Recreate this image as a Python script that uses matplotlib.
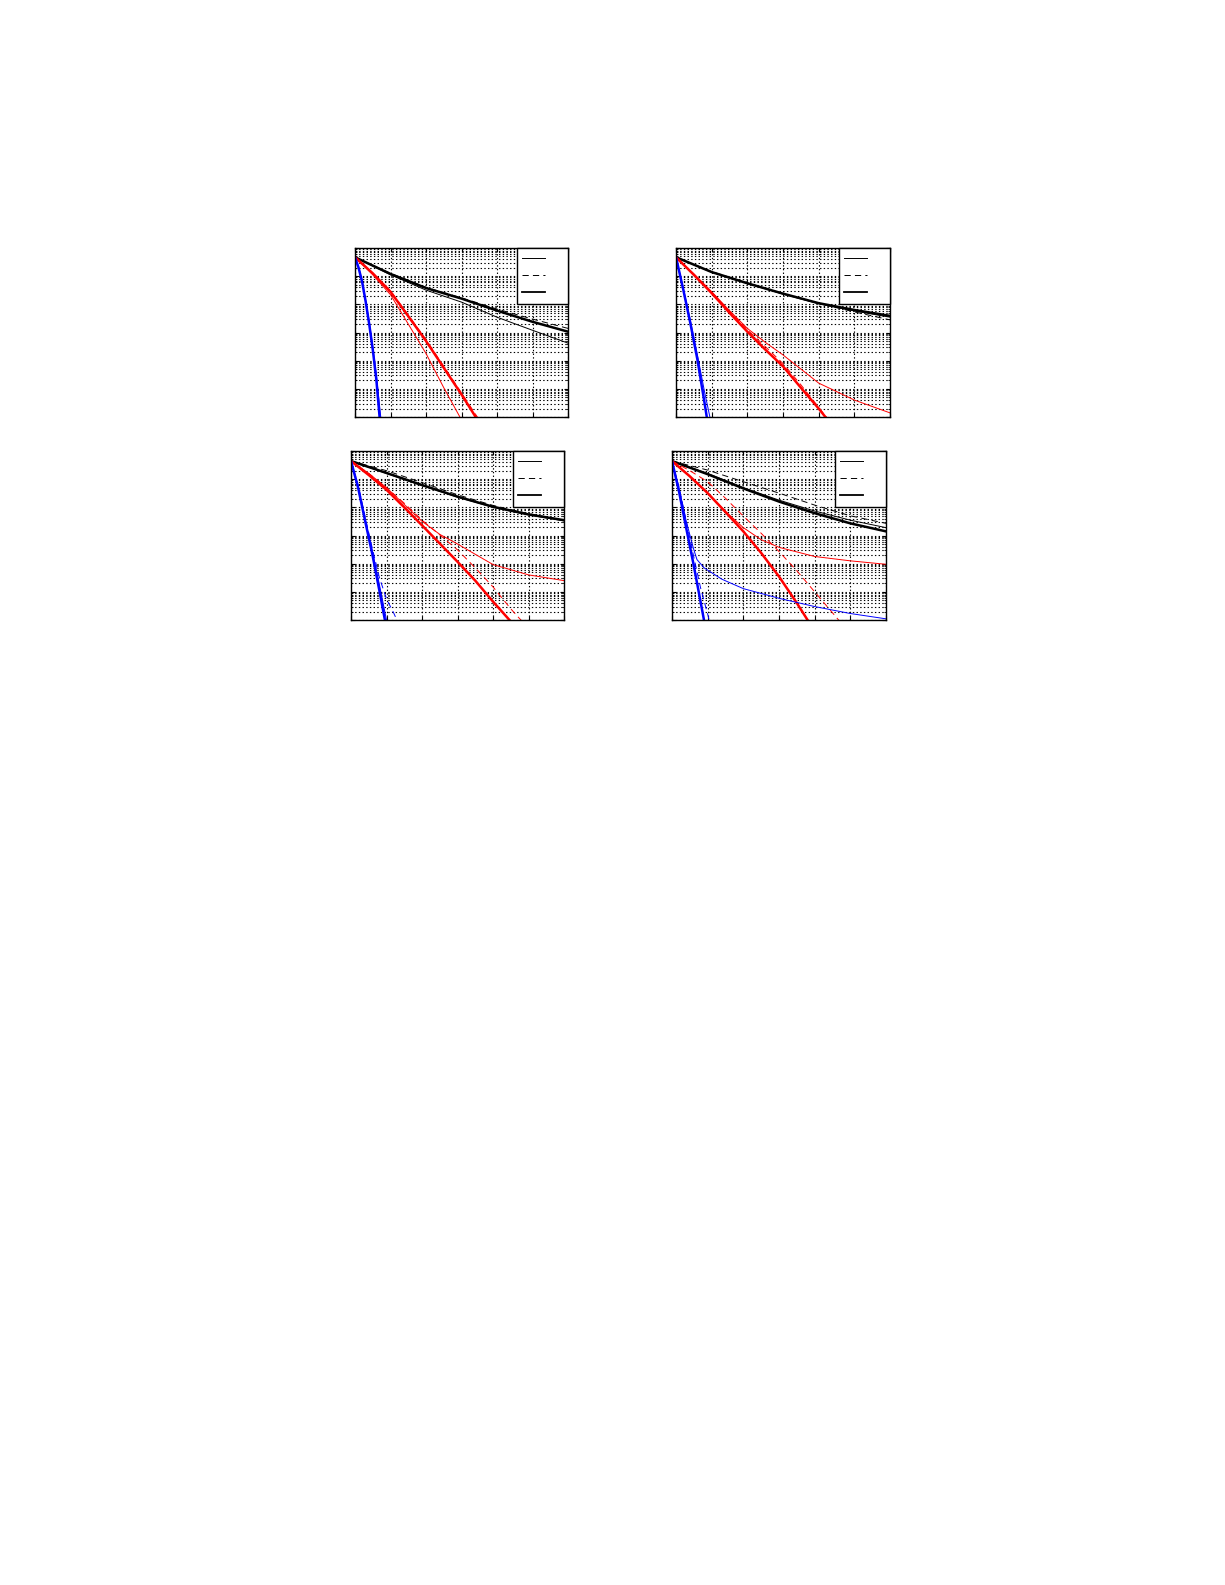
import matplotlib
matplotlib.use("Agg")
import matplotlib.pyplot as plt
from matplotlib.lines import Line2D

plt.rcParams['lines.scale_dashes'] = False
plt.rcParams['lines.dashed_pattern'] = [4.5, 3.0]

# x axis (SNR, dB) sample points
snr_black = [0, 5, 10, 15, 20, 25, 30]
snr_red = [0, 2.5, 5, 7.5, 10, 12.5, 15, 17.5]
snr_red_long = [0, 2.5, 5, 7.5, 10, 12.5, 15, 17.5, 20, 22.5]
snr_red_wide = [0, 2.5, 5, 7.5, 10, 12.5, 15, 17.5, 20, 22.5, 25]
snr_red_tail = [0, 2.5, 5, 7.5, 10, 12.5, 15, 20, 25, 30]
snr_blue_a = [0, 0.5, 1, 1.5, 2, 2.5, 3, 3.5, 4]
snr_blue = [0, 1, 2, 3, 4, 5]
snr_blue_b = [0, 1, 2, 3, 4, 4.5, 5]
snr_blue_long = [0, 1, 2, 3, 4, 5, 6, 7]
snr_blue_tail = [0, 1, 2, 3, 3.5, 4.5, 7, 10, 15, 20, 25, 30]

# panel (a)
a_black_thin = [4.7e-1, 1.12e-1, 3.2e-2, 1.2e-2, 3.5e-3, 1.2e-3, 4.2e-4]
a_black_dash = [4.7e-1, 1.26e-1, 4.0e-2, 1.7e-2, 6.8e-3, 3.0e-3, 1.4e-3]
a_black_thick = [4.7e-1, 1.2e-1, 3.8e-2, 1.6e-2, 6.0e-3, 2.4e-3, 1.07e-3]
a_red_thin = [4.7e-1, 1.12e-1, 2.2e-2, 2.0e-3, 1.8e-4, 1.1e-5, 7.9e-7]
a_red_dash = [4.7e-1, 1.3e-1, 3.0e-2, 4.2e-3, 5.6e-4, 6.3e-5, 7.1e-6, 7.9e-7]
a_red_thick = [4.7e-1, 1.26e-1, 2.8e-2, 3.8e-3, 5.0e-4, 5.6e-5, 6.3e-6, 6.3e-7]
a_blue_thin = [4.7e-1, 2.1e-1, 7.1e-2, 1.4e-2, 2.5e-3, 3.2e-4, 3.2e-5, 2.0e-6, 1.26e-7]
a_blue_thick = [4.7e-1, 2.0e-1, 6.3e-2, 1.26e-2, 2.0e-3, 2.5e-4, 2.2e-5, 7.9e-7, 1e-7]

# panel (b)
b_black_thin = [4.7e-1, 1.38e-1, 5.5e-2, 2.3e-2, 1.05e-2, 5.8e-3, 3.5e-3]
b_black_dash = [4.7e-1, 1.45e-1, 5.8e-2, 2.4e-2, 1.07e-2, 5.4e-3, 2.8e-3]
b_black_thick = [4.7e-1, 1.4e-1, 5.6e-2, 2.4e-2, 1.1e-2, 6.3e-3, 3.9e-3]
b_red_thin = [4.7e-1, 1.2e-1, 2.8e-2, 6.0e-3, 1.4e-3, 4.5e-4, 1.6e-4, 1.6e-5, 4.0e-6, 1.4e-6]
b_red_dash = [4.7e-1, 1.17e-1, 2.7e-2, 5.6e-3, 1.26e-3, 3.2e-4, 7.9e-5, 1.4e-5, 2.2e-6, 3.5e-7]
b_red_thick = [4.7e-1, 1.12e-1, 2.5e-2, 5.0e-3, 1.07e-3, 2.5e-4, 6.3e-5, 1.1e-5, 2.0e-6, 3.2e-7]
b_blue_thin = [4.7e-1, 4.0e-2, 2.8e-3, 1.6e-4, 7.9e-6, 2.0e-6, 5.0e-7]
b_blue_thick = [4.7e-1, 3.5e-2, 2.2e-3, 1.1e-4, 3.2e-6, 5.0e-7]

# panel (c)
c_black_thin = [4.4e-1, 1.6e-1, 5.9e-2, 2.3e-2, 1.0e-2, 5.4e-3, 3.3e-3]
c_black_dash = [4.4e-1, 2.0e-1, 7.6e-2, 2.8e-2, 1.17e-2, 6.0e-3, 3.5e-3]
c_black_thick = [4.4e-1, 1.66e-1, 6.2e-2, 2.4e-2, 1.05e-2, 5.6e-3, 3.5e-3]
c_red_thin = [4.4e-1, 1.6e-1, 5.0e-2, 1.26e-2, 3.2e-3, 1.1e-3, 5.0e-4, 9.3e-5, 4.0e-5, 2.5e-5]
c_red_dash = [4.4e-1, 1.6e-1, 5.0e-2, 1.4e-2, 3.5e-3, 1.05e-3, 3.1e-4, 7.1e-5, 1.5e-5, 2.5e-6, 5.0e-7]
c_red_thick = [4.4e-1, 1.4e-1, 4.2e-2, 1.0e-2, 2.3e-3, 5.2e-4, 1.17e-4, 2.5e-5, 4.5e-6, 8.9e-7, 2.0e-7]
c_blue_thin = [4.4e-1, 5.6e-2, 3.5e-3, 2.8e-4, 1.8e-5, 1.0e-6]
c_blue_dash = [4.4e-1, 6.3e-2, 4.5e-3, 3.5e-4, 3.2e-5, 5.6e-6, 1.8e-6, 5.0e-7]
c_blue_thick = [4.4e-1, 5.0e-2, 3.2e-3, 2.2e-4, 1.1e-5, 5.0e-7]

# panel (d)
d_black_thin = [4.4e-1, 1.6e-1, 5.0e-2, 1.8e-2, 7.4e-3, 3.5e-3, 1.9e-3]
d_black_dash = [4.4e-1, 2.1e-1, 8.1e-2, 3.2e-2, 1.2e-2, 5.0e-3, 2.7e-3]
d_black_thick = [4.4e-1, 1.5e-1, 4.7e-2, 1.6e-2, 6.2e-3, 2.7e-3, 1.4e-3]
d_red_thin = [4.4e-1, 1.26e-1, 3.2e-2, 7.1e-3, 1.9e-3, 7.1e-4, 3.8e-4, 1.8e-4, 1.26e-4, 9.5e-5]
d_red_dash = [4.4e-1, 2.0e-1, 8.1e-2, 2.1e-2, 4.9e-3, 1.2e-3, 2.7e-4, 5.6e-5, 1.0e-5, 1.8e-6, 3.2e-7]
d_red_thick = [4.4e-1, 1.26e-1, 3.2e-2, 6.8e-3, 1.4e-3, 2.4e-4, 3.5e-5, 4.0e-6, 4.0e-7]
d_blue_thin = [4.4e-1, 4.5e-2, 3.2e-3, 3.5e-4, 1.4e-4, 7.1e-5, 2.8e-5, 1.3e-5, 5.9e-6, 3.0e-6, 1.7e-6, 1.1e-6]
d_blue_dash = [4.4e-1, 5.0e-2, 3.2e-3, 2.0e-4, 1.4e-5, 1.6e-6, 1.6e-7]
d_blue_thick = [4.4e-1, 3.5e-2, 1.8e-3, 1.0e-4, 4.5e-6, 2.0e-7]

THIN = 0.7
THICK = 1.8

# (x, y, colour, linestyle, linewidth) per curve
panels = [
    [(snr_black, a_black_thin, 'black', '-', THIN),
     (snr_black, a_black_dash, 'black', '--', THIN),
     (snr_black, a_black_thick, 'black', '-', THICK),
     (snr_red[:7], a_red_thin, 'red', '-', THIN),
     (snr_red, a_red_dash, 'red', '--', THIN),
     (snr_red, a_red_thick, 'red', '-', THICK),
     (snr_blue_a, a_blue_thin, 'blue', '-', THIN),
     (snr_blue_a, a_blue_thick, 'blue', '-', THICK)],
    [(snr_black, b_black_thin, 'black', '-', THIN),
     (snr_black, b_black_dash, 'black', '--', THIN),
     (snr_black, b_black_thick, 'black', '-', THICK),
     (snr_red_tail, b_red_thin, 'red', '-', THIN),
     (snr_red_long, b_red_dash, 'red', '--', THIN),
     (snr_red_long, b_red_thick, 'red', '-', THICK),
     (snr_blue_b, b_blue_thin, 'blue', '-', THIN),
     (snr_blue_b[:6], b_blue_thick, 'blue', '-', THICK)],
    [(snr_black, c_black_thin, 'black', '-', THIN),
     (snr_black, c_black_dash, 'black', '--', THIN),
     (snr_black, c_black_thick, 'black', '-', THICK),
     (snr_red_tail, c_red_thin, 'red', '-', THIN),
     (snr_red_wide, c_red_dash, 'red', '--', THIN),
     (snr_red_wide, c_red_thick, 'red', '-', THICK),
     (snr_blue, c_blue_thin, 'blue', '-', THIN),
     (snr_blue_long, c_blue_dash, 'blue', '--', THIN),
     (snr_blue, c_blue_thick, 'blue', '-', THICK)],
    [(snr_black, d_black_thin, 'black', '-', THIN),
     (snr_black, d_black_dash, 'black', '--', THIN),
     (snr_black, d_black_thick, 'black', '-', THICK),
     (snr_red_tail, d_red_thin, 'red', '-', THIN),
     (snr_red_wide, d_red_dash, 'red', '--', THIN),
     (snr_red_wide[:9], d_red_thick, 'red', '-', THICK),
     (snr_blue_tail, d_blue_thin, 'blue', '-', THIN),
     (snr_blue_long[:7], d_blue_dash, 'blue', '--', THIN),
     (snr_blue, d_blue_thick, 'blue', '-', THICK)],
]

# axes boxes in figure pixels: left, top, right, bottom
W, H = 1225, 1585
boxes = [(355, 248, 568, 417), (676, 248, 890, 417),
         (351, 451, 564, 620), (672, 451, 886, 620)]

fig = plt.figure(figsize=(W / 100, H / 100), dpi=100)

for box, curves in zip(boxes, panels):
    l, t, r, b = box
    ax = fig.add_axes([l / W, 1 - b / H, (r - l) / W, (b - t) / H])
    for x, y, c, ls, lw in curves:
        ax.plot(x, y, color=c, linestyle=ls, linewidth=lw)
    ax.set_yscale('log')
    ax.set_xlim(0, 30)
    ax.set_ylim(1e-6, 1)
    ax.set_xticks([0, 5, 10, 15, 20, 25, 30])
    ax.grid(True, which='major', linestyle=':', color='black', linewidth=0.8)
    ax.grid(True, which='minor', axis='y', linestyle=':', color='black', linewidth=0.8)
    ax.tick_params(which='both', direction='in', top=True, right=True,
                   labelleft=False, labelbottom=False, length=3)
    ax.tick_params(which='minor', length=1.5)
    for s in ax.spines.values():
        s.set_linewidth(1.0)

    handles = [Line2D([], [], color='black', linestyle='-', linewidth=THIN),
               Line2D([], [], color='black', linestyle='--', linewidth=THIN),
               Line2D([], [], color='black', linestyle='-', linewidth=1.3)]
    leg = ax.legend(handles, ['', '', ''], loc='upper right', borderaxespad=0,
                    fontsize=8, handlelength=2.0, handletextpad=1.6,
                    labelspacing=0.65, borderpad=0.5, fancybox=False,
                    framealpha=1, edgecolor='black')
    leg.get_frame().set_linewidth(1.0)

fig.savefig('out.png', dpi=100, facecolor='white')
